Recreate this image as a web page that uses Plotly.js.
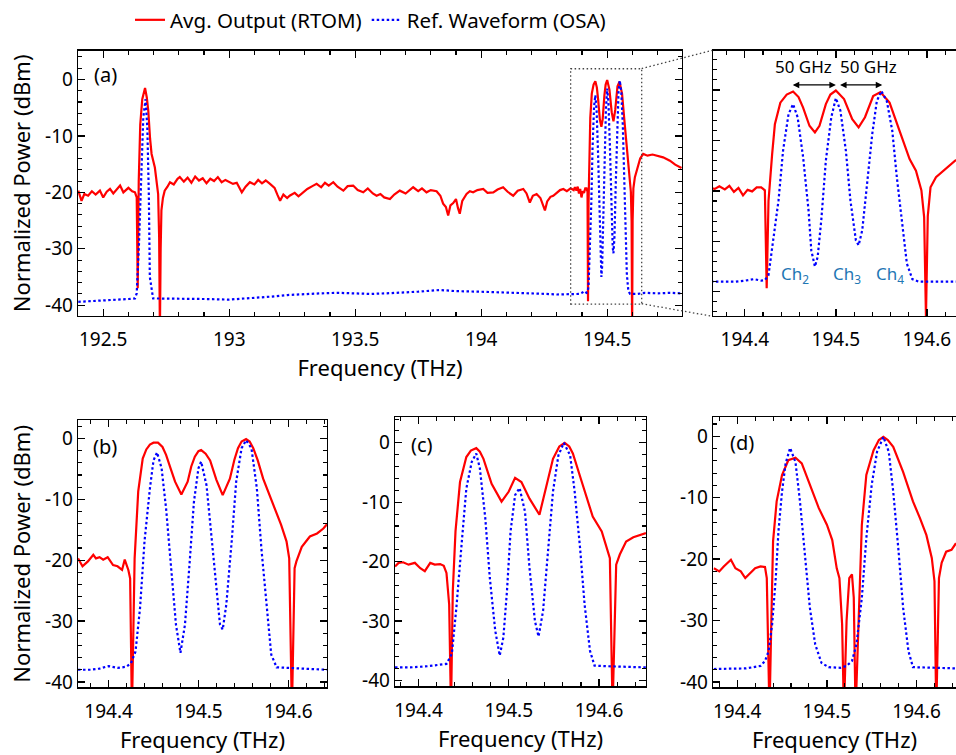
<!DOCTYPE html>
<html>
<head>
<meta charset="utf-8">
<script src="https://cdn.plot.ly/plotly-3.0.1.min.js"></script>
<style>html,body{margin:0;padding:0;background:#fff;}#chart{width:956px;height:755px;}</style>
</head>
<body>
<div id="chart"></div>
<script>
// ===== Panel (a) + zoom inset: full spectrum =====
const freqA_rtom = [192.401,192.414,192.425,192.44,192.455,192.47,192.487,192.5,192.514,192.527,192.54,192.555,192.567,192.58,192.6,192.615,192.626,192.633,192.637,192.641,192.647,192.655,192.666,192.673,192.679,192.686,192.692,192.705,192.713,192.718,192.722,192.725,192.728,192.731,192.737,192.744,192.755,192.765,192.78,192.795,192.804,192.82,192.835,192.85,192.865,192.88,192.895,192.91,192.925,192.94,192.955,192.97,192.985,193.0,193.015,193.03,193.05,193.065,193.082,193.1,193.115,193.13,193.145,193.162,193.18,193.192,193.202,193.215,193.23,193.24,193.26,193.275,193.294,193.31,193.33,193.347,193.365,193.38,193.395,193.413,193.43,193.453,193.47,193.492,193.51,193.532,193.55,193.57,193.585,193.6,193.615,193.638,193.655,193.677,193.7,193.715,193.73,193.75,193.765,193.783,193.8,193.823,193.838,193.849,193.86,193.869,193.878,193.889,193.9,193.908,193.915,193.925,193.942,193.955,193.968,193.985,194.008,194.025,194.048,194.065,194.087,194.105,194.127,194.145,194.167,194.18,194.193,194.205,194.22,194.235,194.245,194.253,194.262,194.275,194.286,194.3,194.313,194.326,194.34,194.355,194.367,194.372,194.378,194.383,194.388,194.393,194.398,194.403,194.408,194.413,194.418,194.422,194.424,194.426,194.430,194.433,194.439,194.446,194.453,194.459,194.464,194.471,194.477,194.482,194.489,194.494,194.5,194.509,194.518,194.525,194.532,194.541,194.549,194.559,194.57,194.581,194.588,194.594,194.597,194.599,194.601,194.604,194.61,194.621,194.631,194.643,194.66,194.68,194.7,194.722,194.749,194.77,194.795];
const powA_rtom = [-19.7,-21.5,-20.3,-20.6,-19.8,-20.4,-19.7,-20.9,-19.9,-19.4,-20.2,-19.3,-18.8,-20.0,-19.2,-19.8,-20.0,-20.9,-37.0,-18,-8,-3.5,-1.5,-3.2,-5.6,-10.5,-13.2,-15.6,-18.0,-20.3,-28,-45,-30,-23.2,-21,-19.7,-19.0,-18.2,-18.6,-17.6,-17.3,-18.1,-17.4,-18.3,-17.2,-17.9,-17.5,-18.4,-17.6,-18.0,-17.3,-18.2,-17.8,-18.1,-18.5,-18.3,-20.0,-19.0,-18.2,-18.6,-17.8,-18.4,-17.9,-18.5,-19.2,-20.5,-21.5,-20.4,-21.0,-20.6,-20.1,-20.7,-20.0,-19.4,-18.9,-18.5,-19.1,-18.3,-18.8,-18.2,-19.0,-19.7,-18.9,-18.8,-19.6,-20.0,-19.3,-20.2,-20.6,-20.3,-20.9,-21.2,-20.4,-19.7,-20.2,-19.6,-19.1,-19.8,-19.3,-20.0,-19.6,-19.8,-20.6,-22.0,-22.6,-24.1,-22.3,-21.9,-21.2,-22.8,-23.8,-21.5,-20.3,-19.8,-20.0,-19.6,-19.4,-20.1,-20.0,-19.5,-19.1,-19.9,-20.6,-19.7,-19.4,-20.2,-21.8,-20.6,-20.3,-21.0,-22.1,-23.2,-21.6,-20.8,-20.6,-20.1,-19.6,-19.4,-19.8,-19.3,-19.6,-19.1,-19.7,-19.0,-20.2,-19.4,-20.9,-19.8,-20.1,-19.3,-19.3,-19.9,-39.3,-22,-12.7,-6.8,-2.5,-0.9,-0.3,-1.4,-3.5,-7.1,-8.4,-7.1,-2.8,-0.9,-0.1,-1.8,-5.8,-7.4,-5.4,-1.2,-0.4,-2.5,-8.1,-13.7,-16.0,-19.9,-25.2,-45,-25,-19.3,-17.3,-15.6,-14.0,-13.2,-13.5,-13.3,-13.6,-13.8,-14.4,-15.1,-15.7];
const freqA_osa = [192.401,192.45,192.5,192.55,192.6,192.626,192.633,192.642,192.65,192.659,192.668,192.675,192.681,192.685,192.698,192.75,192.831,192.9,193.0,193.08,193.16,193.23,193.294,193.36,193.43,193.5,193.56,193.62,193.68,193.75,193.836,193.9,193.995,194.06,194.127,194.2,194.259,194.3,194.339,194.36,194.367,194.39,194.40,194.41,194.418,194.422,194.426,194.431,194.437,194.442,194.448,194.453,194.458,194.464,194.47,194.473,194.477,194.48,194.484,194.489,194.495,194.5,194.505,194.511,194.516,194.522,194.525,194.529,194.534,194.54,194.545,194.55,194.556,194.562,194.567,194.573,194.578,194.584,194.591,194.62,194.65,194.7,194.75,194.795];
const powA_osa = [-39.4,-39.3,-39.1,-39.0,-38.9,-38.8,-37.9,-29.1,-17.3,-6.8,-3.5,-8.5,-20.3,-35,-38.8,-38.8,-38.8,-38.9,-39.0,-38.8,-38.5,-38.2,-38.0,-37.9,-37.8,-37.9,-38.0,-37.9,-37.8,-37.6,-37.3,-37.5,-37.6,-37.7,-37.7,-37.9,-38.0,-38.1,-38.0,-38.0,-38.0,-38.0,-37.8,-37.5,-37.8,-37.7,-36.7,-30.4,-21.9,-12.0,-4.8,-2.8,-5.4,-13.3,-23.9,-31.8,-35.0,-33.1,-25.8,-14.0,-5.4,-1.6,-4.1,-12.0,-21.9,-29.8,-30.8,-27.8,-18.6,-8.7,-2.2,-0.2,-2.2,-8.1,-17.3,-26.5,-34.4,-37.5,-38.0,-38.0,-37.8,-37.9,-37.8,-37.9];

// ===== Panel (b) =====
const freqB_rtom = [194.366,194.371,194.377,194.383,194.386,194.39,194.394,194.399,194.405,194.41,194.415,194.418,194.422,194.424,194.426,194.428,194.429,194.433,194.438,194.442,194.446,194.450,194.455,194.460,194.464,194.469,194.474,194.481,194.488,194.492,194.496,194.500,194.503,194.508,194.513,194.52,194.527,194.535,194.540,194.544,194.548,194.553,194.557,194.561,194.566,194.572,194.583,194.592,194.598,194.601,194.604,194.607,194.609,194.615,194.624,194.632,194.639,194.643];
const powB_rtom = [-19.7,-21.0,-20.2,-19.1,-19.7,-19.5,-19.9,-19.5,-20.8,-21.0,-21.6,-19.9,-21.6,-23.0,-45,-27.9,-19.7,-8.7,-3.3,-1.8,-1.0,-0.7,-0.7,-1.4,-2.7,-4.9,-7.1,-9.2,-7.1,-4.6,-3.0,-2.1,-1.9,-2.5,-3.6,-6.8,-9.3,-6.6,-3.5,-1.6,-0.5,-0.1,-0.5,-1.6,-3.6,-6.6,-10.9,-14.2,-16.9,-19.7,-45,-21.3,-20.2,-17.8,-16.1,-15.6,-14.8,-14.1];
const freqB_osa = [194.366,194.38,194.39,194.40,194.41,194.42,194.425,194.43,194.435,194.44,194.446,194.45,194.454,194.459,194.464,194.47,194.475,194.48,194.485,194.49,194.495,194.5,194.503,194.509,194.514,194.52,194.524,194.527,194.531,194.537,194.542,194.548,194.553,194.559,194.565,194.57,194.576,194.581,194.587,194.6,194.62,194.643];
const powB_osa = [-38.0,-38.0,-37.8,-37.4,-37.7,-37.5,-36.9,-35.0,-27.9,-16.9,-8.2,-3.6,-2.3,-4.9,-11.5,-21.3,-30.6,-35.2,-30.6,-20.8,-10.4,-4.9,-3.8,-7.7,-15.3,-24.6,-30.6,-31.4,-27.3,-16.9,-7.1,-1.6,-0.3,-1.6,-8.2,-18.0,-27.9,-35.5,-37.6,-37.7,-37.8,-38.0];

// ===== Panel (c) =====
const freqC_rtom = [194.374,194.378,194.383,194.389,194.396,194.402,194.407,194.413,194.418,194.424,194.428,194.431,194.434,194.436,194.438,194.441,194.446,194.453,194.458,194.464,194.468,194.472,194.481,194.492,194.5,194.507,194.514,194.523,194.534,194.54,194.549,194.556,194.562,194.567,194.571,194.582,194.593,194.603,194.608,194.612,194.615,194.619,194.623,194.63,194.638,194.645,194.652];
const powC_rtom = [-20.8,-20.2,-20.1,-20.5,-20.2,-21.1,-21.6,-20.2,-20.5,-20.4,-20.7,-21.9,-27.2,-45,-25,-14.9,-6.6,-2.4,-1.3,-0.9,-1.5,-2.7,-6.9,-9.9,-8.2,-5.9,-6.6,-9.4,-12.1,-8.2,-2.7,-0.6,0,-0.6,-1.8,-7.1,-12.4,-14.9,-17.2,-19.4,-45,-20.5,-18.8,-16.6,-15.9,-15.5,-15.2];
const freqC_osa = [194.374,194.39,194.41,194.425,194.431,194.437,194.442,194.448,194.453,194.459,194.464,194.468,194.474,194.479,194.485,194.49,194.494,194.498,194.502,194.507,194.512,194.518,194.523,194.529,194.533,194.538,194.544,194.549,194.555,194.561,194.568,194.573,194.579,194.584,194.59,194.595,194.61,194.652];
const powC_osa = [-37.8,-37.8,-37.6,-37.4,-37.2,-35.5,-27.7,-16.6,-7.7,-3.2,-1.8,-4.3,-12.7,-22.7,-31.6,-35.8,-32.8,-25.0,-14.9,-8.8,-7.6,-11.6,-21.1,-30.0,-32.6,-28.3,-17.7,-8.2,-2.1,0,-2.1,-8.2,-17.7,-27.2,-35.0,-37.5,-37.6,-37.8];

// ===== Panel (d) =====
const freqD_rtom = [194.374,194.38,194.385,194.393,194.398,194.404,194.409,194.415,194.42,194.426,194.431,194.433,194.436,194.438,194.44,194.444,194.45,194.457,194.465,194.472,194.481,194.491,194.5,194.506,194.511,194.514,194.517,194.519,194.522,194.525,194.528,194.53,194.532,194.535,194.539,194.544,194.552,194.558,194.563,194.568,194.574,194.585,194.596,194.604,194.611,194.617,194.62,194.622,194.625,194.628,194.633,194.639,194.644];
const powD_rtom = [-21.5,-22.0,-21.2,-20.1,-21.5,-22.0,-23.1,-22.3,-21.5,-21.2,-21.3,-23.1,-45,-30.6,-17.1,-10.6,-6.3,-3.9,-3.5,-4.4,-7.9,-11.7,-14.4,-16.9,-21.5,-23.1,-30.6,-45,-30,-23.1,-22.5,-26.3,-45,-30.6,-14.4,-6.3,-2.3,-0.6,-0.1,-0.6,-1.7,-5.8,-10.6,-13.4,-16.1,-19.8,-23.6,-45,-23.1,-20.6,-18.8,-18.5,-17.4];
const freqD_osa = [194.374,194.39,194.41,194.426,194.431,194.435,194.439,194.443,194.446,194.45,194.454,194.459,194.465,194.47,194.476,194.481,194.487,194.494,194.502,194.515,194.522,194.528,194.533,194.539,194.544,194.55,194.556,194.563,194.569,194.574,194.58,194.585,194.591,194.596,194.62,194.644];
const powD_osa = [-37.9,-37.9,-37.8,-37.4,-36.6,-35.0,-30.6,-23.1,-15.5,-9.0,-4.4,-1.9,-4.2,-10.6,-19.8,-27.9,-33.9,-36.9,-37.6,-37.7,-37.4,-36.6,-33.9,-26.3,-16.6,-7.9,-2.5,-0.1,-2.5,-9.0,-18.8,-27.9,-35.0,-37.6,-37.7,-37.8];

// ===== Text / ticks =====
const seriesNames = ['Avg. Output (RTOM)', 'Ref. Waveform (OSA)'];
const panelLabels = ['(a)', '(b)', '(c)', '(d)'];
const yTickVals = [0, -10, -20, -30, -40];
const xTickValsA = [192.5, 193, 193.5, 194, 194.5];
const xTickValsZoom = [194.4, 194.5, 194.6];
const chLabels = ['Ch<sub>2</sub>', 'Ch<sub>3</sub>', 'Ch<sub>4</sub>'];
const chFreq = [194.455, 194.512, 194.559];
const spacingLabel = '50 GHz';

const FONT = 'Noto Sans, Open Sans, DejaVu Sans, sans-serif';
const RED = 'rgb(255,0,0)';
const BLUE = 'rgb(0,0,255)';

function range(a, b, step) { const o = []; for (let v = a; v <= b + 1e-9; v += step) o.push(Math.round(v * 1000) / 1000); return o; }

function rtom(x, y, xa, ya, show) {
  return {x: x, y: y, xaxis: xa, yaxis: ya, type: 'scatter', mode: 'lines', name: seriesNames[0], showlegend: !!show,
    line: {color: RED, width: 2.2}};
}
function osa(x, y, xa, ya, show) {
  return {x: x, y: y, xaxis: xa, yaxis: ya, type: 'scatter', mode: 'lines', name: seriesNames[1], showlegend: !!show,
    line: {color: BLUE, width: 2.2, dash: '2.5px,2.5px'}};
}

const traces = [
  rtom(freqA_rtom, powA_rtom, 'x', 'y', true), osa(freqA_osa, powA_osa, 'x', 'y', true),
  rtom(freqA_rtom, powA_rtom, 'x2', 'y2'), osa(freqA_osa, powA_osa, 'x2', 'y2'),
  rtom(freqB_rtom, powB_rtom, 'x3', 'y3'), osa(freqB_osa, powB_osa, 'x3', 'y3'),
  rtom(freqC_rtom, powC_rtom, 'x4', 'y4'), osa(freqC_osa, powC_osa, 'x4', 'y4'),
  rtom(freqD_rtom, powD_rtom, 'x5', 'y5'), osa(freqD_osa, powD_osa, 'x5', 'y5')
];

function xax(domain, rng, anchor, tickvals, minorStep, title, mirror) {
  const ax = {domain: domain, range: rng, anchor: anchor, showline: true, linecolor: 'black', linewidth: 1.3,
    mirror: mirror, ticks: 'inside', ticklen: 7, tickwidth: 1.3, tickcolor: 'black', showgrid: false, zeroline: false,
    tickmode: 'array', tickvals: tickvals, ticktext: tickvals.map(String), ticklabelstandoff: 6,
    minor: {tickmode: 'array', tickvals: range(rng[0] - (rng[0] % minorStep), rng[1], minorStep), ticks: 'inside', ticklen: 4, tickwidth: 1.1, tickcolor: 'black'},
    tickfont: {family: FONT, size: 19, color: 'black'},
    fixedrange: true};
  if (title) ax.title = {text: title, font: {family: FONT, size: 22, color: 'black'}, standoff: 9};
  return ax;
}
function yax(domain, rng, anchor, title, showLabels, mirror) {
  const ax = {domain: domain, range: rng, anchor: anchor, showline: true, linecolor: 'black', linewidth: 1.3,
    mirror: mirror, ticks: 'inside', ticklen: 7, tickwidth: 1.3, tickcolor: 'black', showgrid: false, zeroline: false,
    tickmode: 'array', tickvals: yTickVals, ticktext: yTickVals.map(String), showticklabels: showLabels,
    minor: {tickmode: 'array', tickvals: range(-44, 8, 2), ticks: 'inside', ticklen: 4, tickwidth: 1.1, tickcolor: 'black'},
    tickfont: {family: FONT, size: 19, color: 'black'},
    fixedrange: true};
  if (title) ax.title = {text: title, font: {family: FONT, size: 22, color: 'black'}, standoff: 8};
  return ax;
}

const yTitle = 'Normalized Power (dBm)';
const xTitle = 'Frequency (THz)';
const dotLine = {color: '#444', width: 1.3, dash: '1.5px,2.5px'};

const layout = {
  width: 956, height: 755,
  margin: {l: 0, r: 0, t: 0, b: 0},
  paper_bgcolor: 'white', plot_bgcolor: 'white',
  font: {family: FONT, color: 'black'},
  showlegend: true,
  legend: {orientation: 'h', x: 0.136, xanchor: 'left', y: 1.007, yanchor: 'top', font: {family: FONT, size: 20.5, color: 'black'},
    bgcolor: 'rgba(0,0,0,0)', itemwidth: 30, tracegroupgap: 0},
  xaxis: xax([0.0816, 0.7134], [192.4, 194.797], 'y', xTickValsA, 0.1, xTitle, 'ticks'),
  yaxis: yax([0.5854, 0.9391], [-41.9, 5.1], 'x', yTitle, true, 'ticks'),
  xaxis2: xax([0.7458, 1.0], [194.365, 194.632], 'y2', xTickValsZoom, 0.02, null, 'ticks'),
  yaxis2: yax([0.5854, 0.9391], [-44.8, 7.8], 'x2', null, false, false),
  xaxis3: xax([0.0816, 0.342], [194.366, 194.643], 'y3', xTickValsZoom, 0.02, xTitle, 'ticks'),
  yaxis3: yax([0.0901, 0.4464], [-40.9, 3.0], 'x3', yTitle, true, 'ticks'),
  xaxis4: xax([0.4132, 0.6757], [194.374, 194.652], 'y4', xTickValsZoom, 0.02, xTitle, 'ticks'),
  yaxis4: yax([0.0914, 0.4503], [-41.0, 4.3], 'x4', null, true, 'ticks'),
  xaxis5: xax([0.7458, 1.0], [194.373, 194.644], 'y5', xTickValsZoom, 0.02, xTitle, 'ticks'),
  yaxis5: yax([0.0901, 0.4503], [-40.9, 3.1], 'x5', null, true, false),
  shapes: [
    // dotted zoom box in (a)
    {type: 'rect', xref: 'x', yref: 'y', x0: 194.355, x1: 194.637, y0: -39.8, y1: 1.9, line: dotLine},
    // connectors to the inset
    {type: 'line', xref: 'paper', yref: 'paper', x0: 0.6712, y0: 0.9152, x1: 0.7450, y1: 0.9395, line: dotLine},
    {type: 'line', xref: 'paper', yref: 'paper', x0: 0.6712, y0: 0.6017, x1: 0.7450, y1: 0.5850, line: dotLine}
  ],
  annotations: [
    {xref: 'x domain', yref: 'y domain', x: 0.023, y: 0.91, xanchor: 'left', yanchor: 'middle', text: panelLabels[0], showarrow: false, font: {family: FONT, size: 20, color: 'black'}},
    {xref: 'x3 domain', yref: 'y3 domain', x: 0.052, y: 0.903, xanchor: 'left', yanchor: 'middle', text: panelLabels[1], showarrow: false, font: {family: FONT, size: 20, color: 'black'}},
    {xref: 'x4 domain', yref: 'y4 domain', x: 0.056, y: 0.90, xanchor: 'left', yanchor: 'middle', text: panelLabels[2], showarrow: false, font: {family: FONT, size: 20, color: 'black'}},
    {xref: 'x5 domain', yref: 'y5 domain', x: 0.062, y: 0.908, xanchor: 'left', yanchor: 'middle', text: panelLabels[3], showarrow: false, font: {family: FONT, size: 20, color: 'black'}},
    {xref: 'x2', yref: 'y2', x: 194.464, y: 4.6, text: spacingLabel, showarrow: false, font: {family: FONT, size: 17, color: 'black'}},
    {xref: 'x2', yref: 'y2', x: 194.536, y: 4.6, text: spacingLabel, showarrow: false, font: {family: FONT, size: 17, color: 'black'}},
    {xref: 'x2', yref: 'y2', axref: 'x2', ayref: 'y2', x: 194.500, y: 1.0, ax: 194.451, ay: 1.0, text: '', showarrow: true,
      arrowside: 'end+start', arrowhead: 2, arrowsize: 1, arrowwidth: 1.3, arrowcolor: 'black', standoff: 0, startstandoff: 0},
    {xref: 'x2', yref: 'y2', axref: 'x2', ayref: 'y2', x: 194.551, y: 1.0, ax: 194.503, ay: 1.0, text: '', showarrow: true,
      arrowside: 'end+start', arrowhead: 2, arrowsize: 1, arrowwidth: 1.3, arrowcolor: 'black', standoff: 0, startstandoff: 0}
  ].concat(chLabels.map((t, i) => ({xref: 'x2', yref: 'y2', x: chFreq[i], y: -36.6, text: t, showarrow: false,
      font: {family: FONT, size: 17, color: '#1f77b4'}})))
};

Plotly.newPlot('chart', traces, layout, {staticPlot: true, displayModeBar: false});
</script>
</body>
</html>
